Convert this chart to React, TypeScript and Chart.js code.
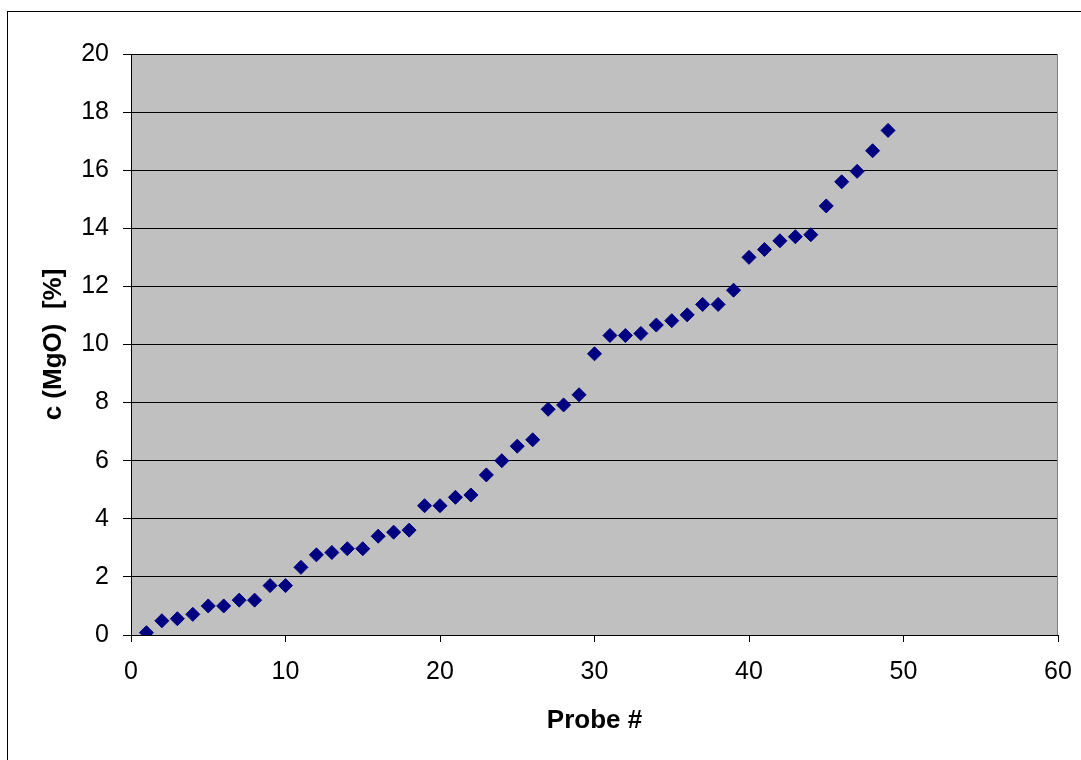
import React, { useEffect, useRef } from "react";
import { Chart, registerables } from "chart.js";

Chart.register(...registerables);

const probeNumbers = [
  1, 2, 3, 4, 5, 6, 7, 8, 9, 10, 11, 12, 13, 14, 15, 16, 17, 18, 19, 20, 21, 22, 23, 24, 25,
  26, 27, 28, 29, 30, 31, 32, 33, 34, 35, 36, 37, 38, 39, 40, 41, 42, 43, 44, 45, 46, 47, 48, 49,
];
const mgoValues = [
  0.08, 0.49, 0.56, 0.71, 1.0, 1.0, 1.2, 1.2, 1.7, 1.7, 2.33, 2.76, 2.84, 2.97, 2.97, 3.4, 3.54,
  3.61, 4.45, 4.45, 4.74, 4.82, 5.51, 6.0, 6.5, 6.72, 7.77, 7.92, 8.27, 9.68, 10.31, 10.31, 10.38,
  10.67, 10.82, 11.02, 11.38, 11.38, 11.87, 13.0, 13.27, 13.57, 13.71, 13.78, 14.77, 15.6, 15.96,
  16.67, 17.37,
];
const xTitle = "Probe #";
const yTitle = "c (MgO)  [%]";

const FONT = "'Liberation Sans', Arial, sans-serif";

const framePlugin = {
  id: "framePlugin",
  beforeDraw(chart: any) {
    const { ctx, chartArea } = chart;
    ctx.save();
    ctx.fillStyle = "#ffffff";
    ctx.fillRect(0, 0, chart.width, chart.height);
    ctx.strokeStyle = "#000000";
    ctx.lineWidth = 1;
    ctx.strokeRect(7.5, 11.5, 1200, 900);
    ctx.fillStyle = "#C0C0C0";
    ctx.fillRect(chartArea.left, chartArea.top, chartArea.right - chartArea.left, chartArea.bottom - chartArea.top);
    ctx.restore();
  },
  beforeDatasetsDraw(chart: any) {
    const { ctx, chartArea } = chart;
    ctx.save();
    ctx.strokeStyle = "#808080";
    ctx.lineWidth = 1;
    ctx.beginPath();
    ctx.moveTo(chartArea.right - 0.5, chartArea.top);
    ctx.lineTo(chartArea.right - 0.5, chartArea.bottom);
    ctx.stroke();
    ctx.restore();
  },
};

export default function App() {
  const ref = useRef<HTMLCanvasElement | null>(null);
  useEffect(() => {
    if (!ref.current) return;
    const chart = new Chart(ref.current, {
      type: "scatter",
      data: {
        datasets: [
          {
            data: probeNumbers.map((x, i) => ({ x, y: mgoValues[i] })),
            pointStyle: "rectRot",
            pointRadius: 7,
            pointBackgroundColor: "#000080",
            pointBorderColor: "#000080",
            pointBorderWidth: 1,
            showLine: false,
          },
        ],
      },
      options: {
        animation: false,
        responsive: false,
        maintainAspectRatio: false,
        layout: { padding: { top: 54, right: 23, bottom: 0, left: 0 } },
        plugins: { legend: { display: false }, tooltip: { enabled: false } },
        scales: {
          x: {
            type: "linear",
            min: 0,
            max: 60,
            afterFit: (s: any) => {
              s.height = 125;
              s.paddingLeft = 0;
              s.paddingRight = 0;
            },
            ticks: { stepSize: 10, color: "#000", font: { family: FONT, size: 25 }, padding: 15 },
            grid: { drawOnChartArea: false, drawTicks: true, tickLength: 7, color: "#000" },
            border: { color: "#000", width: 1 },
            title: {
              display: true,
              text: xTitle,
              color: "#000",
              font: { family: FONT, size: 26, weight: "bold" },
              padding: { top: 0, bottom: 24 },
            },
          },
          y: {
            type: "linear",
            min: 0,
            max: 20,
            afterFit: (s: any) => {
              s.width = 131;
              s.paddingTop = 0;
              s.paddingBottom = 0;
            },
            ticks: { stepSize: 2, color: "#000", font: { family: FONT, size: 25 }, padding: 14 },
            grid: { drawOnChartArea: true, drawTicks: true, tickLength: 8, color: "#000" },
            border: { color: "#000", width: 1 },
            title: {
              display: true,
              text: yTitle,
              color: "#000",
              font: { family: FONT, size: 26, weight: "bold" },
              padding: { top: 38, bottom: 0 },
            },
          },
        },
      },
      plugins: [framePlugin],
    });
    return () => chart.destroy();
  }, []);
  return (
    <div style={{ position: "fixed", left: 0, top: 0, width: 1081, height: 760 }}>
      <canvas ref={ref} width={1081} height={760} style={{ width: 1081, height: 760 }} />
    </div>
  );
}
